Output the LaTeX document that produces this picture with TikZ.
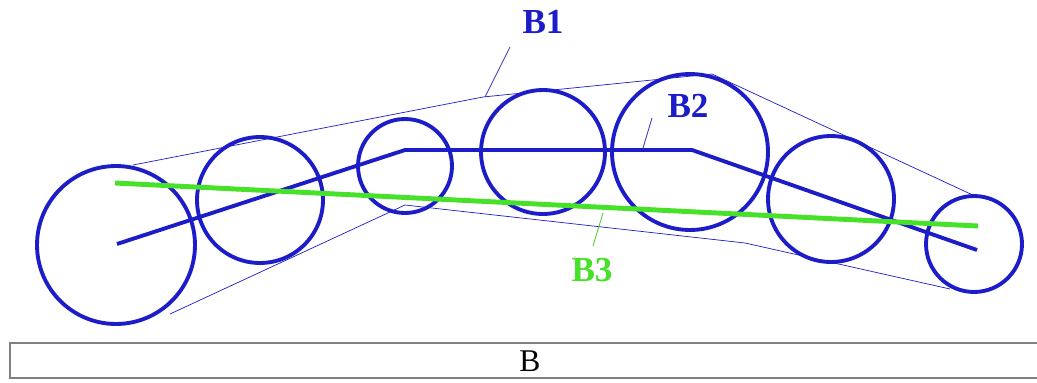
\documentclass[tikz,border=0pt]{standalone}
\usepackage{fontspec}
\setmainfont{Liberation Serif}
\usetikzlibrary{positioning}
\definecolor{rollblue}{RGB}{28,28,200}
\definecolor{linegreen}{RGB}{70,225,40}

\tikzset{
  roll/.style={circle,draw=rollblue,line width=2.2pt,inner sep=0pt},
  tag/.style={font=\fontsize{20}{22}\selectfont\bfseries},
  leader/.style={line width=0.5pt},
}

\begin{document}
\begin{tikzpicture}[x=0.02cm,y=-0.02cm]
  \useasboundingbox (0,0) rectangle (1037,382);
  % rolls
  \node[roll,minimum size=3.16cm] (r1) at (116,245) {};
  \node[roll,minimum size=2.52cm] (r2) at (260,200) {};
  \node[roll,minimum size=1.88cm] (r3) at (405,166) {};
  \node[roll,minimum size=2.48cm] (r4) at (543,152) {};
  \node[roll,minimum size=3.12cm] (r5) at (690,152) {};
  \node[roll,minimum size=2.52cm] (r6) at (831,199) {};
  \node[roll,minimum size=1.92cm] (r7) at (974,244) {};
  % envelope B1
  \draw[rollblue,line width=0.4pt] (133,165) -- (483,97) -- (712,74) -- (977,197);
  \draw[rollblue,line width=0.4pt] (170,314) -- (405,205) -- (745,243) -- (950,289);
  % axis B2 and line B3
  \draw[rollblue,line width=2.2pt] (117,244) -- (405,150) -- (692,150) -- (977,250);
  \draw[linegreen,line width=2.8pt] (115,183) -- (978,226);
  % labels
  \node[tag,text=rollblue] (b1) at (543,22) {B1};
  \node[tag,text=rollblue] (b2) at (688,106) {B2};
  \node[tag,text=linegreen] (b3) at (592,270) {B3};
  \coordinate (t1) at (510,47);  \coordinate (e1) at (485,97);
  \coordinate (t2) at (652,118); \coordinate (e2) at (643,148);
  \coordinate (t3) at (593,246); \coordinate (e3) at (603,213);
  \draw[leader,rollblue!70!gray] (t1) -- (e1);
  \draw[leader,rollblue!70!gray] (t2) -- (e2);
  \draw[leader,linegreen!80!gray] (t3) -- (e3);
  % base
  \draw[gray,line width=1pt,fill=white] (10,343) rectangle (1040,378);
  \node[font=\fontsize{18}{20}\selectfont] (base) at (530,361) {B};
\end{tikzpicture}
\end{document}
